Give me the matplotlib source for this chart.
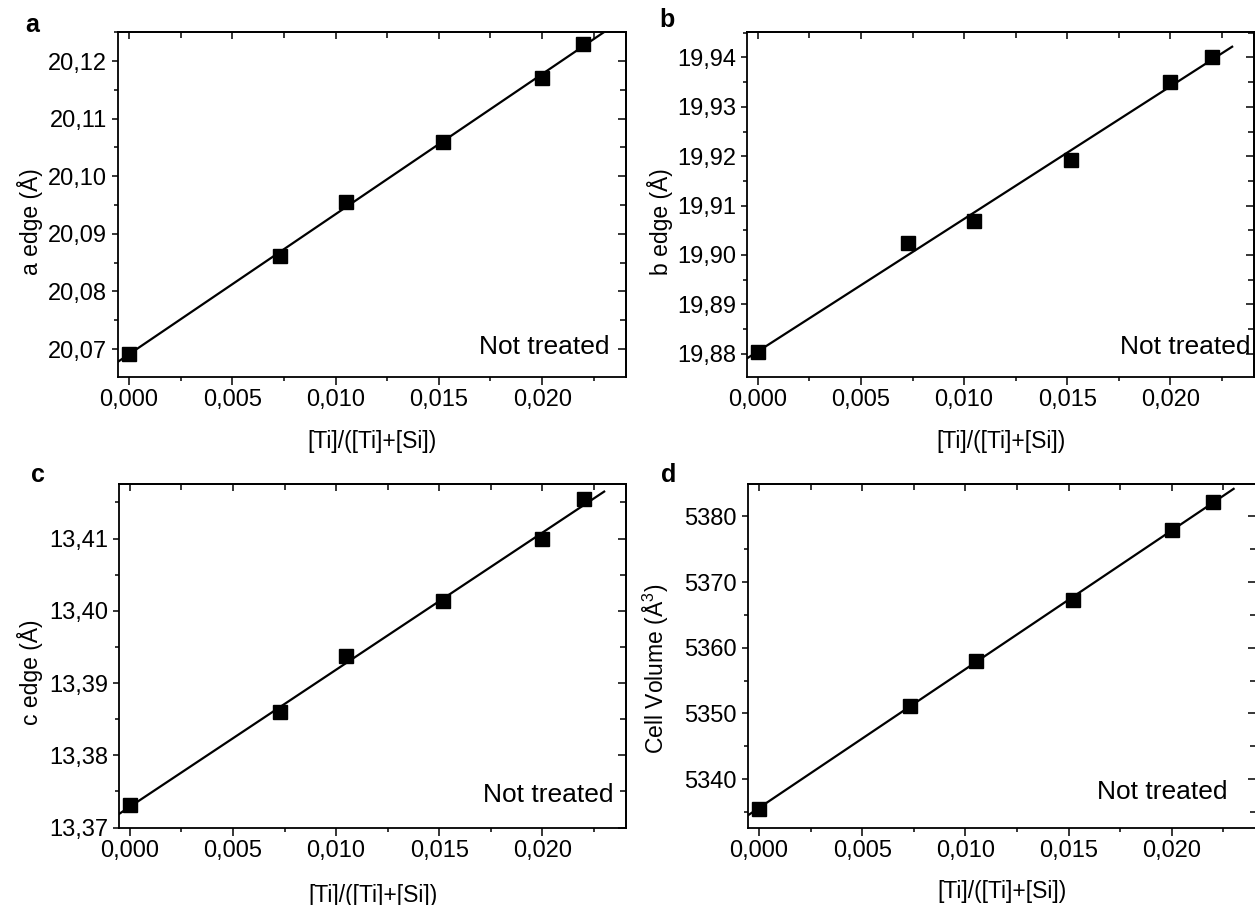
import numpy as np
import matplotlib
matplotlib.use("Agg")
from matplotlib import pyplot as plt
from matplotlib.ticker import MultipleLocator, FuncFormatter


plt.rcParams['font.family'] = ['Liberation Sans', 'DejaVu Sans']
plt.rcParams['mathtext.fontset'] = 'custom'
plt.rcParams['mathtext.rm'] = 'Liberation Sans'
plt.rcParams['mathtext.it'] = 'Liberation Sans:italic'
plt.rcParams['mathtext.bf'] = 'Liberation Sans:bold'

# Ti fraction of the samples and fitted lattice parameters
ti_frac = [0.0, 0.0073, 0.0105, 0.0152, 0.0200, 0.0220]
a_edge = [20.0691, 20.0862, 20.0956, 20.1060, 20.1171, 20.1230]
b_edge = [19.8803, 19.9024, 19.9069, 19.9193, 19.9351, 19.9400]
c_edge = [13.3731, 13.3860, 13.3937, 13.4013, 13.4099, 13.4155]
cell_volume = [5335.5, 5351.2, 5358.0, 5367.3, 5377.9, 5382.2]

x_label = "[Ti]/([Ti]+[Si])"
note = "Not treated"

W, H = 1255.0, 905.0
TICK_FS = 17
LABEL_FS = 16.5


def comma_fmt(decimals):
    return FuncFormatter(lambda v, _: f"{v:.{decimals}f}".replace(".", ","))


def draw_panel(fig, box, yvals, ylim, ystep, ydec, ylabel, letter, letter_pos,
               note_pos, ylab_pos, xlab_y):
    left, right, top, bottom = box
    ax = fig.add_axes([left / W, 1 - bottom / H, (right - left) / W, (bottom - top) / H])

    # linear fit over the whole composition range
    k, b = np.polyfit(ti_frac, yvals, 1)
    xf = np.array([-0.0005, 0.0230])
    ax.plot(xf, k * xf + b, color="black", lw=1.6, zorder=2)
    ax.plot(ti_frac, yvals, "s", color="black", ms=9.4, zorder=3, clip_on=False)

    ax.set_xlim(-0.00053, 0.02406)
    ax.set_ylim(*ylim)

    ax.xaxis.set_major_locator(MultipleLocator(0.005))
    ax.xaxis.set_minor_locator(MultipleLocator(0.0025))
    ax.yaxis.set_major_locator(MultipleLocator(ystep))
    ax.yaxis.set_minor_locator(MultipleLocator(ystep / 2))
    ax.xaxis.set_major_formatter(comma_fmt(3))
    ax.yaxis.set_major_formatter(comma_fmt(ydec))

    ax.tick_params(which="both", direction="out", width=1.1, labelsize=TICK_FS,
                   top=False, right=False)
    ax.tick_params(axis="x", which="major", length=5.5, pad=3)
    ax.tick_params(axis="x", which="minor", length=3.2)
    ax.tick_params(axis="y", which="major", length=4, pad=4)
    ax.tick_params(axis="y", which="minor", length=3)

    # mirrored ticks on top and right point inwards
    top_ax = ax.secondary_xaxis("top")
    top_ax.xaxis.set_major_locator(MultipleLocator(0.005))
    top_ax.xaxis.set_minor_locator(MultipleLocator(0.0025))
    top_ax.tick_params(which="major", direction="in", width=1.1, length=5, labeltop=False)
    top_ax.tick_params(which="minor", direction="in", width=1.1, length=4.5, labeltop=False)
    right_ax = ax.secondary_yaxis("right")
    right_ax.yaxis.set_major_locator(MultipleLocator(ystep))
    right_ax.yaxis.set_minor_locator(MultipleLocator(ystep / 2))
    right_ax.tick_params(which="major", direction="in", width=1.1, length=5.5, labelright=False)
    right_ax.tick_params(which="minor", direction="in", width=1.1, length=4.3, labelright=False)

    for a in (ax, top_ax, right_ax):
        for sp in a.spines.values():
            sp.set_linewidth(1.3)

    ax.set_xlabel(x_label, fontsize=LABEL_FS)
    ax.xaxis.label.set_verticalalignment("center")
    ax.xaxis.set_label_coords(0.5, xlab_y)
    ax.set_ylabel(ylabel, fontsize=LABEL_FS)
    ax.yaxis.label.set_verticalalignment("center")
    ax.yaxis.set_label_coords(*ylab_pos)

    ax.text(note_pos[0], note_pos[1], note, transform=ax.transAxes,
            ha="right", va="center", fontsize=19)
    fig.text(letter_pos[0] / W, 1 - letter_pos[1] / H, letter, fontsize=18,
             fontweight="bold", ha="center", va="baseline")
    return ax


fig = plt.figure(figsize=(12.55, 9.05), dpi=100)

draw_panel(fig, (118, 626, 32.3, 377.3), a_edge, (20.0651, 20.125), 0.01, 2,
           "a edge (Å)", "a", (32, 31.5), (0.9685, 0.088), (-0.173, 0.451), -0.187)
draw_panel(fig, (747, 1254, 32.3, 377.3), b_edge, (19.8752, 19.9451), 0.01, 2,
           "b edge (Å)", "b", (667, 27), (0.994, 0.088), (-0.172, 0.451), -0.187)
draw_panel(fig, (119, 626, 484.3, 828.3), c_edge, (13.3699, 13.4175), 0.01, 2,
           "c edge (Å)", "c", (38, 481.5), (0.976, 0.097), (-0.175, 0.455), -0.194)
draw_panel(fig, (748, 1255.5, 484.3, 828.3), cell_volume, (5332.5, 5384.9), 10, 0,
           "Cell Volume (Å$^{3}$)", "d", (669, 481.5), (0.945, 0.106), (-0.181, 0.465), -0.184)

fig.savefig("out.png", dpi=100)
